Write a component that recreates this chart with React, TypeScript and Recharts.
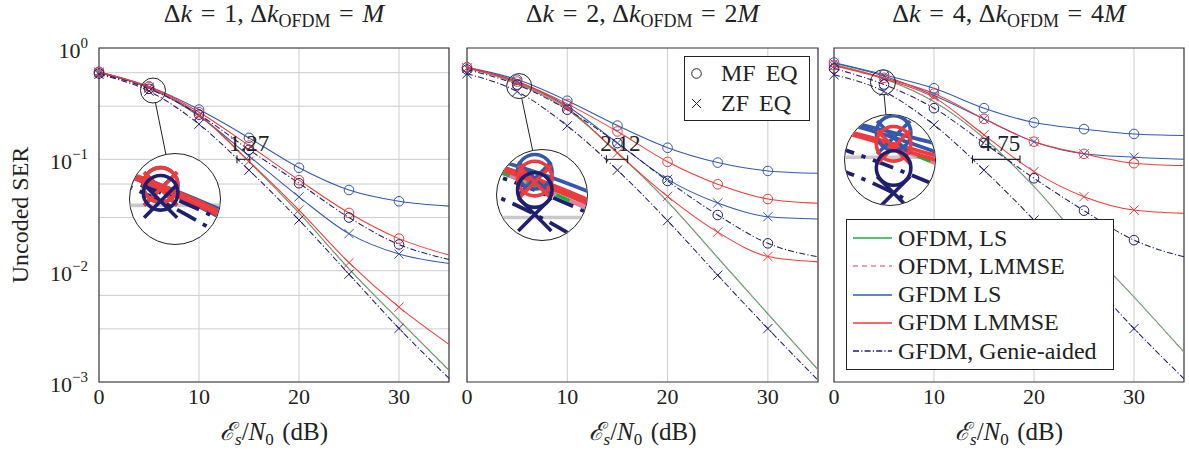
import React from "react";
import {
  CartesianGrid,
  ComposedChart,
  Legend,
  Line,
  ReferenceArea,
  ReferenceDot,
  ReferenceLine,
  XAxis,
  YAxis,
} from "recharts";

const FONT = '"Liberation Serif", "DejaVu Serif", serif';
const INK = "#222";

const GREEN = "#1eae42";
const PINK = "#de7fa8";
const BLUE = "#3358ad";
const RED = "#f23a3a";
const NAVY = "#1f1f70";

// Es/N0 in dB, one sample every 5 dB
const snrDb = [0, 5, 10, 15, 20, 25, 30, 35];
const xTicks = [0, 10, 20, 30];
const yTicks = [
  0.001, 0.002, 0.003, 0.004, 0.005, 0.006, 0.007, 0.008, 0.009,
  0.01, 0.02, 0.03, 0.04, 0.05, 0.06, 0.07, 0.08, 0.09,
  0.1, 0.2, 0.3, 0.4, 0.5, 0.6, 0.7, 0.8, 0.9, 1,
];
const yDecades = [0.001, 0.01, 0.1, 1];
const yDecadeLabels = ["−3", "−2", "−1", "0"];

// panel titles: Δk and Δk_OFDM
const dkValues = ["1", "2", "4"];
const dkOfdmFactors = ["", "2", "4"];

// SNR gap at SER = 1e-1
const gapLabels = ["1.27", "2.12", "4.75"];
const gapStart = [13.8, 13.9, 13.85];
const gapWidth = [1.27, 2.12, 4.75];
const gapLabelX = [15.0, 15.3, 16.6];
const GAP_LEVEL = 0.1;

// Δk = 1
const p1OfdmLs = [0.6, 0.44, 0.25, 0.095, 0.033, 0.0104, 0.0036, 0.00128];
const p1OfdmLmmse = [0.6, 0.44, 0.25, 0.095, 0.033, 0.0103, 0.0036, 0.00126];
const p1LsMf = [0.61, 0.45, 0.28, 0.156, 0.084, 0.053, 0.042, 0.038];
const p1LsZf = [0.6, 0.44, 0.245, 0.107, 0.046, 0.0215, 0.0141, 0.0116];
const p1LmmseMf = [0.61, 0.45, 0.265, 0.133, 0.065, 0.033, 0.0194, 0.0138];
const p1LmmseZf = [0.61, 0.44, 0.25, 0.096, 0.035, 0.0118, 0.0047, 0.00218];
const p1GenieMf = [0.59, 0.43, 0.252, 0.122, 0.061, 0.03, 0.0172, 0.0126];
const p1GenieZf = [0.58, 0.41, 0.207, 0.08, 0.0285, 0.0093, 0.00303, 0.00108];

// Δk = 2
const p2OfdmLs = [0.66, 0.48, 0.28, 0.115, 0.0417, 0.0131, 0.0041, 0.00129];
const p2OfdmLmmse = [0.66, 0.48, 0.28, 0.115, 0.0417, 0.013, 0.0041, 0.00128];
const p2LsMf = [0.67, 0.52, 0.336, 0.201, 0.127, 0.0935, 0.0787, 0.075];
const p2LsZf = [0.66, 0.5, 0.3, 0.14, 0.066, 0.0405, 0.0305, 0.0291];
const p2LmmseMf = [0.67, 0.5, 0.315, 0.178, 0.095, 0.0597, 0.044, 0.0403];
const p2LmmseZf = [0.66, 0.49, 0.29, 0.114, 0.0465, 0.0222, 0.0134, 0.012];
const p2GenieMf = [0.64, 0.468, 0.279, 0.14, 0.064, 0.0316, 0.0176, 0.0133];
const p2GenieZf = [0.587, 0.407, 0.2, 0.08, 0.0281, 0.0091, 0.00302, 0.00104];

// Δk = 4
const p3OfdmLs = [0.71, 0.53, 0.33, 0.155, 0.057, 0.0174, 0.0058, 0.00186];
const p3OfdmLmmse = [0.71, 0.53, 0.33, 0.155, 0.057, 0.0173, 0.0058, 0.00184];
const p3LsMf = [0.74, 0.575, 0.435, 0.288, 0.214, 0.187, 0.169, 0.164];
const p3LsZf = [0.73, 0.56, 0.375, 0.231, 0.144, 0.112, 0.1045, 0.1];
const p3LmmseMf = [0.7, 0.54, 0.39, 0.231, 0.144, 0.112, 0.0923, 0.0879];
const p3LmmseZf = [0.69, 0.53, 0.36, 0.166, 0.0776, 0.0462, 0.035, 0.0327];
const p3GenieMf = [0.655, 0.47, 0.288, 0.14, 0.0676, 0.0346, 0.0188, 0.0133];
const p3GenieZf = [0.575, 0.407, 0.204, 0.08, 0.0285, 0.0093, 0.00302, 0.00107];

// magnifier: spot in data coords, lens centre in page pixels
const zoomX = [5.4, 5.2, 4.9];
const zoomV = [0.415, 0.455, 0.492];
const lensX = [175, 542, 890];
const lensY = [199.5, 195, 160];
const SPOT_R = 12.5;
const LENS_R = 45;
const MAG = LENS_R / SPOT_R;

const eqLegend = [
  { label: "MF EQ", marker: "circle" },
  { label: "ZF EQ", marker: "cross" },
];

type Marker = "circle" | "cross" | null;

const seriesDefs: { key: string; color: string; dash: number[] | null; marker: Marker; name: string }[] = [
  { key: "ofdmLs", color: GREEN, dash: null, marker: null, name: "OFDM, LS" },
  { key: "ofdmLmmse", color: PINK, dash: [5, 4], marker: null, name: "OFDM, LMMSE" },
  { key: "lsMf", color: BLUE, dash: null, marker: "circle", name: "GFDM LS" },
  { key: "lsZf", color: BLUE, dash: null, marker: "cross", name: "" },
  { key: "lmmseMf", color: RED, dash: null, marker: "circle", name: "GFDM LMMSE" },
  { key: "lmmseZf", color: RED, dash: null, marker: "cross", name: "" },
  { key: "genieMf", color: NAVY, dash: [6, 2.2, 1.2, 2.2], marker: "circle", name: "GFDM, Genie-aided" },
  { key: "genieZf", color: NAVY, dash: [6, 2.2, 1.2, 2.2], marker: "cross", name: "" },
];

const makeRows = (s: number[][]) =>
  snrDb.map((x, i) => ({
    x,
    ofdmLs: s[0][i],
    ofdmLmmse: s[1][i],
    lsMf: s[2][i],
    lsZf: s[3][i],
    lmmseMf: s[4][i],
    lmmseZf: s[5][i],
    genieMf: s[6][i],
    genieZf: s[7][i],
  }));

const panelRows = [
  makeRows([p1OfdmLs, p1OfdmLmmse, p1LsMf, p1LsZf, p1LmmseMf, p1LmmseZf, p1GenieMf, p1GenieZf]),
  makeRows([p2OfdmLs, p2OfdmLmmse, p2LsMf, p2LsZf, p2LmmseMf, p2LmmseZf, p2GenieMf, p2GenieZf]),
  makeRows([p3OfdmLs, p3OfdmLmmse, p3LsMf, p3LsZf, p3LmmseMf, p3LmmseZf, p3GenieMf, p3GenieZf]),
];

const PLOT_TOP = 48;
const PLOT_H = 334;
const CHART_H = 454;
const X_MAX = 35;
const layout = [
  { left: 0, axisW: 99, plotW: 350, rightPad: 6 },
  { left: 457, axisW: 10, plotW: 351, rightPad: 6 },
  { left: 824, axisW: 10, plotW: 350, rightPad: 5 },
];

const toPx = (i: number, x: number, v: number) => {
  const L = layout[i];
  return {
    x: L.left + L.axisW + (x / X_MAX) * L.plotW,
    y: PLOT_TOP + (-Math.log10(v) / 3) * PLOT_H,
  };
};

function Glyph({ kind, cx, cy, color, s = 1 }: { kind: Marker; cx: number; cy: number; color: string; s?: number }) {
  if (kind === "circle")
    return <circle cx={cx} cy={cy} r={4.8 * s} fill="none" stroke={color} strokeWidth={s} />;
  const h = 4.6 * s;
  return (
    <path
      d={`M${cx - h} ${cy - h}L${cx + h} ${cy + h}M${cx - h} ${cy + h}L${cx + h} ${cy - h}`}
      fill="none"
      stroke={color}
      strokeWidth={s}
    />
  );
}

const makeDot = (marker: Marker, color: string, s: number) => (props: any) => {
  const { cx, cy, index } = props;
  if (!marker || index === snrDb.length - 1 || cx == null || cy == null) return <g key={`d${index}`} />;
  return (
    <g key={`d${index}`}>
      <Glyph kind={marker} cx={cx} cy={cy} color={color} s={s} />
    </g>
  );
};

const renderLines = (s: number) =>
  seriesDefs.map((d) => (
    <Line
      key={d.key}
      dataKey={d.key}
      type="monotone"
      stroke={d.color}
      strokeWidth={1.05 * s}
      strokeDasharray={d.dash ? d.dash.map((v) => v * s).join(" ") : undefined}
      dot={makeDot(d.marker, d.color, s)}
      activeDot={false}
      isAnimationActive={false}
    />
  ));

const XTick = (p: any) => (
  <text x={p.x} y={p.y + 22} textAnchor="middle" fontFamily={FONT} fontSize={22} fill={INK}>
    {p.payload.value}
  </text>
);

const YTick = (p: any) => {
  const k = yDecades.indexOf(p.payload.value);
  if (k < 0) return <g />;
  return (
    <text x={p.x - 11} y={p.y + 10} textAnchor="end" fontFamily={FONT} fontSize={22} fill={INK}>
      <tspan>10</tspan>
      <tspan dy={-10} fontSize={15}>
        {yDecadeLabels[k]}
      </tspan>
    </text>
  );
};

const XLabel = (p: any) => {
  const vb = p.viewBox || { x: 0, y: 382, width: 350, height: 72 };
  return (
    <text
      x={vb.x + vb.width / 2}
      y={vb.y + 58}
      textAnchor="middle"
      fontFamily={FONT}
      fontSize={25}
      fill={INK}
      style={{ whiteSpace: "pre" }}
    >
      <tspan fontStyle="italic">ℰ</tspan>
      <tspan fontStyle="italic" fontSize={17} dy={5}>s</tspan>
      <tspan dy={-5}>/</tspan>
      <tspan fontStyle="italic">N</tspan>
      <tspan fontSize={17} dy={5}>0</tspan>
      <tspan dy={-5}>{"\u2004(dB)"}</tspan>
    </text>
  );
};

const YLabel = (p: any) => {
  const vb = p.viewBox || { x: 0, y: 48, width: 99, height: 334 };
  const tx = vb.x + 28;
  const ty = vb.y + vb.height / 2;
  return (
    <text x={tx} y={ty} transform={`rotate(-90 ${tx} ${ty})`} textAnchor="middle" fontFamily={FONT} fontSize={24} fill={INK}>
      Uncoded SER
    </text>
  );
};

const EqLegendBox = () => (
  <div
    style={{
      width: 126,
      height: 65,
      boxSizing: "border-box",
      border: `1.3px solid ${INK}`,
      background: "#fff",
      position: "relative",
      fontFamily: FONT,
      fontSize: 24,
      color: INK,
    }}
  >
    {eqLegend.map((e, k) => (
      <div
        key={e.label}
        style={{ position: "absolute", left: 0, top: 2 + k * 29.7, height: 29, display: "flex", alignItems: "center", whiteSpace: "nowrap" }}
      >
        <svg width={30} height={29}>
          <Glyph kind={e.marker as Marker} cx={11.5} cy={14.5} color={INK} />
        </svg>
        <span style={{ marginLeft: 6, wordSpacing: 4 }}>{e.label}</span>
      </div>
    ))}
  </div>
);

const SchemeLegendBox = () => (
  <div
    style={{
      width: 268,
      height: 151,
      boxSizing: "border-box",
      border: `1.3px solid ${INK}`,
      background: "#fff",
      position: "relative",
      fontFamily: FONT,
      fontSize: 24,
      color: INK,
    }}
  >
    {seriesDefs
      .filter((d) => d.name)
      .map((d, k) => (
        <div
          key={d.key}
          style={{ position: "absolute", left: 0, top: 4 + k * 28.3, height: 28, display: "flex", alignItems: "center", whiteSpace: "nowrap" }}
        >
          <svg width={50} height={28}>
            <line x1={6} y1={14} x2={45} y2={14} stroke={d.color} strokeWidth={1.3} strokeDasharray={d.dash ? d.dash.join(" ") : undefined} />
          </svg>
          <span style={{ marginLeft: 1 }}>{d.name}</span>
        </div>
      ))}
  </div>
);

function Panel({ i }: { i: number }) {
  const L = layout[i];
  const width = L.axisW + L.plotW + L.rightPad;
  const g0 = gapStart[i];
  const g1 = gapStart[i] + gapWidth[i];
  const tickUp = GAP_LEVEL * Math.pow(10, 4 / (PLOT_H / 3));
  const tickDown = GAP_LEVEL * Math.pow(10, -4 / (PLOT_H / 3));
  return (
    <div style={{ position: "absolute", left: L.left, top: 0 }}>
      <ComposedChart
        width={width}
        height={CHART_H}
        data={panelRows[i]}
        margin={{ top: PLOT_TOP, right: L.rightPad, bottom: 0, left: 0 }}
      >
        <CartesianGrid horizontalValues={yTicks} verticalValues={[10, 20, 30]} stroke="#cdcdcd" strokeWidth={1} />
        <XAxis
          dataKey="x"
          type="number"
          domain={[0, X_MAX]}
          ticks={xTicks}
          height={72}
          axisLine={false}
          tickLine={false}
          tickSize={0}
          tickMargin={0}
          tick={XTick}
          label={{ content: XLabel }}
        />
        <YAxis
          type="number"
          scale="log"
          domain={[0.001, 1]}
          ticks={yTicks}
          width={L.axisW}
          axisLine={false}
          tickLine={false}
          tickSize={0}
          tickMargin={0}
          tick={i === 0 ? YTick : false}
          label={i === 0 ? { content: YLabel } : undefined}
        />
        <ReferenceArea x1={0} x2={X_MAX} y1={0.001} y2={1} fill="none" stroke="#333" strokeWidth={1.2} />
        {renderLines(1)}
        <ReferenceLine segment={[{ x: g0, y: GAP_LEVEL }, { x: g1, y: GAP_LEVEL }]} stroke={INK} strokeWidth={1.1} />
        <ReferenceLine segment={[{ x: g0, y: tickDown }, { x: g0, y: tickUp }]} stroke={INK} strokeWidth={1.1} />
        <ReferenceLine segment={[{ x: g1, y: tickDown }, { x: g1, y: tickUp }]} stroke={INK} strokeWidth={1.1} />
        <ReferenceDot
          x={gapLabelX[i]}
          y={GAP_LEVEL}
          r={0}
          shape={(p: any) => (
            <text x={p.cx} y={p.cy - 8} textAnchor="middle" fontFamily={FONT} fontSize={23} fill={INK}>
              {gapLabels[i]}
            </text>
          )}
        />
        <ReferenceDot x={zoomX[i]} y={zoomV[i]} r={SPOT_R} fill="none" stroke={INK} strokeWidth={1} />
        {i === 1 && (
          <Legend
            layout="horizontal"
            verticalAlign="middle"
            align="center"
            content={EqLegendBox}
            wrapperStyle={{ left: 227, top: 56, width: 126, height: 65 }}
          />
        )}
        {i === 2 && (
          <Legend
            layout="horizontal"
            verticalAlign="middle"
            align="center"
            content={SchemeLegendBox}
            wrapperStyle={{ left: 22, top: 219, width: 268, height: 151 }}
          />
        )}
      </ComposedChart>
    </div>
  );
}

function Lens({ i }: { i: number }) {
  const half = SPOT_R / (layout[i].plotW / X_MAX);
  const dec = SPOT_R / (PLOT_H / 3);
  const zx = zoomX[i];
  const zv = zoomV[i];
  return (
    <div
      style={{
        position: "absolute",
        left: lensX[i] - LENS_R - 1.2,
        top: lensY[i] - LENS_R - 1.2,
        width: 2 * LENS_R,
        height: 2 * LENS_R,
        borderRadius: "50%",
        overflow: "hidden",
        border: `1.2px solid ${INK}`,
        background: "#fff",
      }}
    >
      <ComposedChart width={2 * LENS_R} height={2 * LENS_R} data={panelRows[i]} margin={{ top: 0, right: 0, bottom: 0, left: 0 }}>
        <CartesianGrid horizontalValues={yTicks} vertical={false} stroke="#c9c9c9" strokeWidth={MAG} />
        <XAxis dataKey="x" type="number" domain={[zx - half, zx + half]} allowDataOverflow hide />
        <YAxis
          type="number"
          scale="log"
          domain={[zv * Math.pow(10, -dec), zv * Math.pow(10, dec)]}
          allowDataOverflow
          hide
        />
        {renderLines(MAG)}
      </ComposedChart>
    </div>
  );
}

function Overlay() {
  return (
    <svg width={1189} height={454} style={{ position: "absolute", left: 0, top: 0, pointerEvents: "none" }}>
      {layout.map((L, i) => {
        const tx = L.left + L.axisW + L.plotW / 2;
        const s = toPx(i, zoomX[i], zoomV[i]);
        const dx = lensX[i] - s.x;
        const dy = lensY[i] - s.y;
        const len = Math.hypot(dx, dy);
        const ux = dx / len;
        const uy = dy / len;
        return (
          <g key={i}>
            <text x={tx} y={22} textAnchor="middle" fontFamily={FONT} fontSize={26} fill={INK} style={{ whiteSpace: "pre" }}>
              <tspan>Δ</tspan>
              <tspan fontStyle="italic">k</tspan>
              <tspan>{`\u2004=\u2004${dkValues[i]},\u2005Δ`}</tspan>
              <tspan fontStyle="italic">k</tspan>
              <tspan fontSize={18} dy={5}>OFDM</tspan>
              <tspan dy={-5}>{`\u2004=\u2004${dkOfdmFactors[i]}`}</tspan>
              <tspan fontStyle="italic">M</tspan>
            </text>
            <line
              x1={s.x + ux * SPOT_R}
              y1={s.y + uy * SPOT_R}
              x2={lensX[i] - ux * LENS_R}
              y2={lensY[i] - uy * LENS_R}
              stroke={INK}
              strokeWidth={1}
            />
          </g>
        );
      })}
    </svg>
  );
}

export default function App() {
  return (
    <div style={{ position: "absolute", left: 0, top: 0, width: 1189, height: 454, background: "#fff", overflow: "hidden" }}>
      {layout.map((_, i) => (
        <Panel key={i} i={i} />
      ))}
      <Overlay />
      {layout.map((_, i) => (
        <Lens key={`lens${i}`} i={i} />
      ))}
    </div>
  );
}
